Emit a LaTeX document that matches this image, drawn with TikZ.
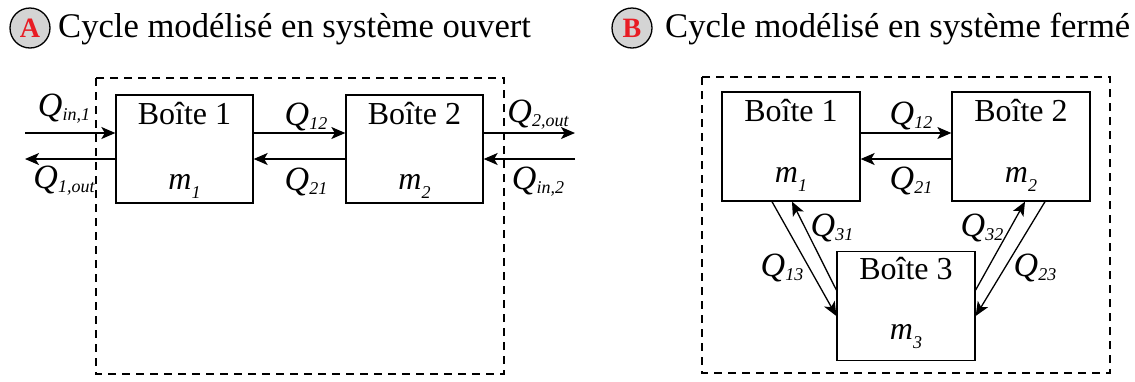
\documentclass[tikz,border=0pt]{standalone}
\usepackage{fontspec}
\setmainfont{Liberation Serif}
\usetikzlibrary{arrows.meta}
\definecolor{lettred}{RGB}{232,28,36}
\definecolor{circgray}{RGB}{212,212,212}
\newcommand{\Qlab}[1]{{\fontsize{34}{34}\selectfont\textit{Q}}\raisebox{-4pt}{\fontsize{18}{18}\selectfont\itshape #1}}
\newcommand{\Mlab}[1]{\textit{m}\raisebox{-9pt}{\fontsize{18}{18}\selectfont\itshape #1}}
\begin{document}
\begin{tikzpicture}[x=1pt,y=-1pt,
  boxst/.style={draw, line width=1.3pt, minimum width=138pt, minimum height=109pt, inner sep=0pt},
  flow/.style={line width=1.3pt, -{Stealth[length=14pt,width=12pt,inset=3.5pt]}},
  lab/.style={inner sep=0pt, font=\fontsize{32}{32}\selectfont},
  bound/.style={line width=1.3pt, dash pattern=on 8pt off 6pt},
  badge/.style={circle, draw, line width=1.3pt, fill=circgray, minimum size=40pt, inner sep=0pt, text=lettred, font=\fontsize{28}{28}\selectfont\bfseries},
  title/.style={anchor=base west, inner sep=0pt, font=\fontsize{34.6}{35}\selectfont}]
\useasboundingbox (0,0) rectangle (1135,381);

% ---------- Panel A ----------
\node[badge] (ba) at (30,28) {A};
\node[title] (ta) at (58,37) {Cycle modélisé en système ouvert};
\draw[bound] (96,78) rectangle (504,374);

\node[boxst, minimum width=137pt, minimum height=108pt] (a1) at (184.5,149) {};
\node[boxst, minimum width=137pt, minimum height=108pt] (a2) at (414.5,149) {};
\node[lab, anchor=base] (a1t) at ([yshift=-30pt]a1.north) {Boîte 1};
\node[lab, anchor=base] (a1m) at ([yshift=-95pt]a1.north) {\Mlab{1}};
\node[lab, anchor=base] (a2t) at ([yshift=-30pt]a2.north) {Boîte 2};
\node[lab, anchor=base] (a2m) at ([yshift=-95pt]a2.north) {\Mlab{2}};

\coordinate (inL) at (25,133);
\coordinate (outL) at (25,159);
\coordinate (outR) at (575,133);
\coordinate (inR) at (575,159);

\draw[flow] (inL) -- (inL -| a1.west);
\draw[flow] (a1.west |- outL) -- (outL);
\draw[flow] ([yshift=16pt]a1.east) -- ([yshift=16pt]a2.west);
\draw[flow] ([yshift=-10pt]a2.west) -- ([yshift=-10pt]a1.east);
\draw[flow] (a2.east |- outR) -- (outR);
\draw[flow] (inR) -- (inR -| a2.east);

\node[lab] (qin1) at (64,109) {\Qlab{in,1}};
\node[lab] (q1out) at (64,181) {\Qlab{1,out}};
\node[lab] (qa12) at (306,117) {\Qlab{12}};
\node[lab] (qa21) at (306,182) {\Qlab{21}};
\node[lab] (q2out) at (538,115) {\Qlab{2,out}};
\node[lab] (qin2) at (538,182) {\Qlab{in,2}};

% ---------- Panel B ----------
\node[badge] (bb) at (632,28) {B};
\node[title] (tb) at (665,37) {Cycle modélisé en système fermé};
\draw[bound] (702,77) rectangle (1110,373);

\node[boxst] (b1) at (791,146.5) {};
\node[boxst] (b2) at (1021,146.5) {};
\node[boxst] (b3) at (906,306) {};
\node[lab, anchor=base] (b1t) at ([yshift=-30pt]b1.north) {Boîte 1};
\node[lab, anchor=base] (b1m) at ([yshift=-91pt]b1.north) {\Mlab{1}};
\node[lab, anchor=base] (b2t) at ([yshift=-30pt]b2.north) {Boîte 2};
\node[lab, anchor=base] (b2m) at ([yshift=-91pt]b2.north) {\Mlab{2}};
\node[lab, anchor=base] (b3t) at ([yshift=-29pt]b3.north) {Boîte 3};
\node[lab, anchor=base] (b3m) at ([yshift=-89pt]b3.north) {\Mlab{3}};

\draw[flow] ([yshift=13.5pt]b1.east) -- ([yshift=13.5pt]b2.west);
\draw[flow] ([yshift=-12.5pt]b2.west) -- ([yshift=-12.5pt]b1.east);
\draw[flow] ([xshift=-19pt]b1.south) -- ([yshift=-10pt]b3.west);
\draw[flow] ([yshift=16pt]b3.west) -- ([xshift=1pt]b1.south);
\draw[flow] ([yshift=16pt]b3.east) -- ([xshift=4pt]b2.south);
\draw[flow] ([xshift=24pt]b2.south) -- ([yshift=-10pt]b3.east);

\node[lab] (qb12) at (911,116) {\Qlab{12}};
\node[lab] (qb21) at (911,181) {\Qlab{21}};
\node[lab] (q31) at (832,228) {\Qlab{31}};
\node[lab] (q13) at (782,268) {\Qlab{13}};
\node[lab] (q32) at (982,228) {\Qlab{32}};
\node[lab] (q23) at (1035,268) {\Qlab{23}};
\end{tikzpicture}
\end{document}
